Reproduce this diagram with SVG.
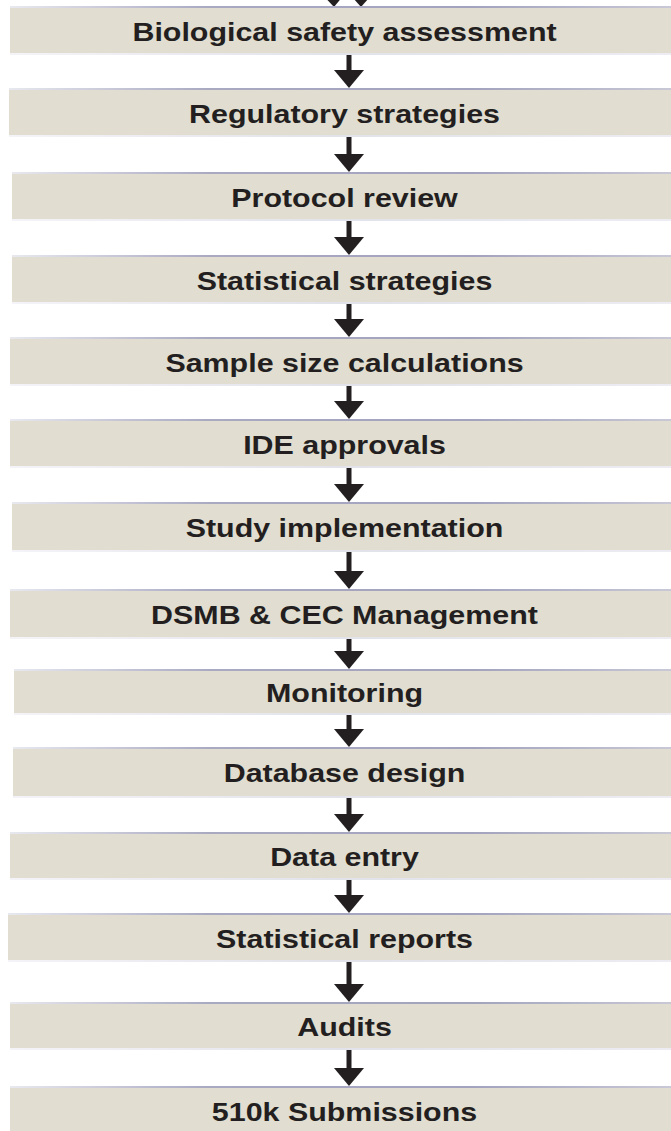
<svg xmlns="http://www.w3.org/2000/svg" width="671" height="1131" viewBox="0 0 671 1131">
<defs>
<linearGradient id="topline" x1="0" y1="0" x2="1" y2="0">
<stop offset="0" stop-color="#e8e8ef"/>
<stop offset="0.3" stop-color="#a9a9c2"/>
<stop offset="0.7" stop-color="#a3a3be"/>
<stop offset="1" stop-color="#c8c8d6"/>
</linearGradient>
<linearGradient id="botline" x1="0" y1="0" x2="1" y2="0">
<stop offset="0" stop-color="#f4f4f8"/>
<stop offset="0.5" stop-color="#e2e2ea"/>
<stop offset="1" stop-color="#ececf2"/>
</linearGradient>
<g id="arrowhead"><polygon points="-15,0 15,0 0,18" fill="#231f20"/></g>
</defs>
<style>
.box{fill:#e1ddd0}
.tl{fill:url(#topline)}
.bl{fill:url(#botline)}
.lbl{font-family:"Liberation Sans",Arial,sans-serif;font-weight:bold;font-size:26px;fill:#231f20;text-anchor:middle}
.shaft{stroke:#231f20;stroke-width:5}
</style>
<rect width="671" height="1131" fill="#ffffff"/>
<g id="connectors">
<polygon points="318,-10 348,-10 334,7" fill="#231f20"/>
<polygon points="346,-10 376,-10 361,7" fill="#231f20"/>
<line class="shaft" x1="349" y1="55" x2="349" y2="71"/><use href="#arrowhead" x="349" y="70"/>
<line class="shaft" x1="349" y1="137" x2="349" y2="155"/><use href="#arrowhead" x="349" y="154"/>
<line class="shaft" x1="349" y1="221" x2="349" y2="238"/><use href="#arrowhead" x="349" y="237"/>
<line class="shaft" x1="349" y1="304" x2="349" y2="320"/><use href="#arrowhead" x="349" y="319"/>
<line class="shaft" x1="349" y1="386" x2="349" y2="402"/><use href="#arrowhead" x="349" y="401"/>
<line class="shaft" x1="349" y1="468" x2="349" y2="485"/><use href="#arrowhead" x="349" y="484"/>
<line class="shaft" x1="349" y1="552" x2="349" y2="572"/><use href="#arrowhead" x="349" y="571"/>
<line class="shaft" x1="349" y1="639" x2="349" y2="652"/><use href="#arrowhead" x="349" y="651"/>
<line class="shaft" x1="349" y1="715" x2="349" y2="730"/><use href="#arrowhead" x="349" y="729"/>
<line class="shaft" x1="349" y1="798" x2="349" y2="815"/><use href="#arrowhead" x="349" y="814"/>
<line class="shaft" x1="349" y1="880" x2="349" y2="896"/><use href="#arrowhead" x="349" y="895"/>
<line class="shaft" x1="349" y1="962" x2="349" y2="985"/><use href="#arrowhead" x="349" y="984"/>
<line class="shaft" x1="349" y1="1050" x2="349" y2="1069"/><use href="#arrowhead" x="349" y="1068"/>
</g>
<g id="n1"><rect class="box" x="10" y="7" width="661" height="46"/><rect class="tl" x="10" y="6" width="661" height="2"/><rect class="bl" x="10" y="53" width="661" height="2"/><text class="lbl" transform="translate(344.5,41) scale(1.17,1)">Biological safety assessment</text></g>
<g id="n2"><rect class="box" x="9" y="89" width="662" height="46"/><rect class="tl" x="9" y="88" width="662" height="2"/><rect class="bl" x="9" y="135" width="662" height="2"/><text class="lbl" transform="translate(344.5,123) scale(1.17,1)">Regulatory strategies</text></g>
<g id="n3"><rect class="box" x="12" y="173" width="659" height="46"/><rect class="tl" x="12" y="172" width="659" height="2"/><rect class="bl" x="12" y="219" width="659" height="2"/><text class="lbl" transform="translate(344.5,207) scale(1.17,1)">Protocol review</text></g>
<g id="n4"><rect class="box" x="12" y="256" width="659" height="46"/><rect class="tl" x="12" y="255" width="659" height="2"/><rect class="bl" x="12" y="302" width="659" height="2"/><text class="lbl" transform="translate(344.5,290) scale(1.17,1)">Statistical strategies</text></g>
<g id="n5"><rect class="box" x="10" y="338" width="661" height="46"/><rect class="tl" x="10" y="337" width="661" height="2"/><rect class="bl" x="10" y="384" width="661" height="2"/><text class="lbl" transform="translate(344.5,372) scale(1.17,1)">Sample size calculations</text></g>
<g id="n6"><rect class="box" x="10" y="420" width="661" height="46"/><rect class="tl" x="10" y="419" width="661" height="2"/><rect class="bl" x="10" y="466" width="661" height="2"/><text class="lbl" transform="translate(344.5,454) scale(1.17,1)">IDE approvals</text></g>
<g id="n7"><rect class="box" x="12" y="503" width="659" height="47"/><rect class="tl" x="12" y="502" width="659" height="2"/><rect class="bl" x="12" y="550" width="659" height="2"/><text class="lbl" transform="translate(344.5,537) scale(1.17,1)">Study implementation</text></g>
<g id="n8"><rect class="box" x="10" y="590" width="661" height="47"/><rect class="tl" x="10" y="589" width="661" height="2"/><rect class="bl" x="10" y="637" width="661" height="2"/><text class="lbl" transform="translate(344.5,624) scale(1.17,1)">DSMB &amp; CEC Management</text></g>
<g id="n9"><rect class="box" x="14" y="670" width="657" height="43"/><rect class="tl" x="14" y="669" width="657" height="2"/><rect class="bl" x="14" y="713" width="657" height="2"/><text class="lbl" transform="translate(344.5,702) scale(1.17,1)">Monitoring</text></g>
<g id="n10"><rect class="box" x="13" y="748" width="658" height="48"/><rect class="tl" x="13" y="747" width="658" height="2"/><rect class="bl" x="13" y="796" width="658" height="2"/><text class="lbl" transform="translate(344.5,782) scale(1.17,1)">Database design</text></g>
<g id="n11"><rect class="box" x="10" y="833" width="661" height="45"/><rect class="tl" x="10" y="832" width="661" height="2"/><rect class="bl" x="10" y="878" width="661" height="2"/><text class="lbl" transform="translate(344.5,866) scale(1.17,1)">Data entry</text></g>
<g id="n12"><rect class="box" x="8" y="914" width="663" height="46"/><rect class="tl" x="8" y="913" width="663" height="2"/><rect class="bl" x="8" y="960" width="663" height="2"/><text class="lbl" transform="translate(344.5,948) scale(1.17,1)">Statistical reports</text></g>
<g id="n13"><rect class="box" x="10" y="1003" width="661" height="45"/><rect class="tl" x="10" y="1002" width="661" height="2"/><rect class="bl" x="10" y="1048" width="661" height="2"/><text class="lbl" transform="translate(344.5,1036) scale(1.17,1)">Audits</text></g>
<g id="n14"><rect class="box" x="10" y="1087" width="661" height="44"/><rect class="tl" x="10" y="1086" width="661" height="2"/><text class="lbl" transform="translate(344.5,1121) scale(1.17,1)">510k Submissions</text></g>
</svg>
